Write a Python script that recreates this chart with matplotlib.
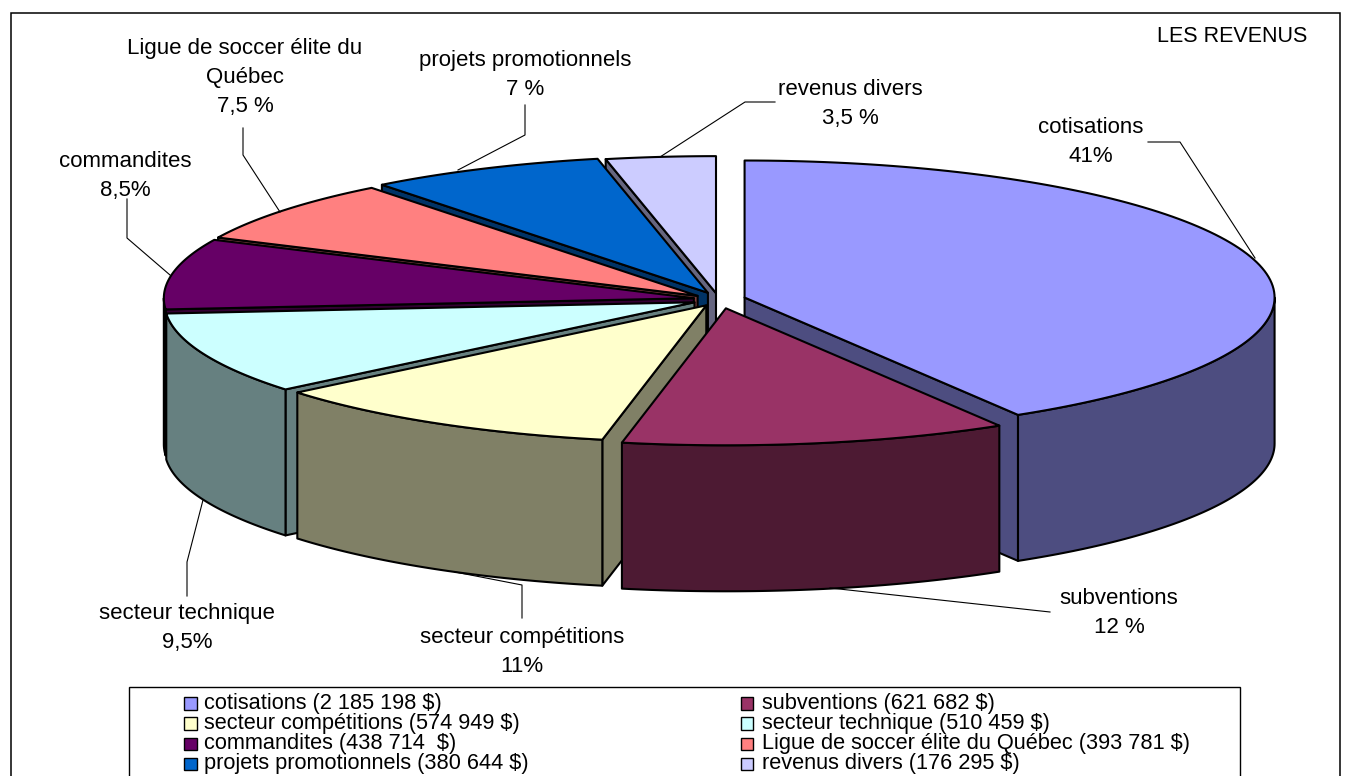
import numpy as np
import matplotlib
matplotlib.use("Agg")
import matplotlib.pyplot as plt
from matplotlib.patches import Polygon, Rectangle

plt.rcParams['font.family'] = ['Liberation Sans', 'DejaVu Sans']

# ---- data ----
categories = ["cotisations", "subventions", "secteur compétitions", "secteur technique",
              "commandites", "Ligue de soccer élite du Québec", "projets promotionnels", "revenus divers"]
values = [2185198, 621682, 574949, 510459, 438714, 393781, 380644, 176295]
legend_labels = ["cotisations (2 185 198 $)", "subventions (621 682 $)",
                 "secteur compétitions (574 949 $)", "secteur technique (510 459 $)",
                 "commandites (438 714  $)", "Ligue de soccer élite du Québec (393 781 $)",
                 "projets promotionnels (380 644 $)", "revenus divers (176 295 $)"]
slice_labels = ["cotisations\n41%", "subventions\n12 %", "secteur compétitions\n11%",
                "secteur technique\n9,5%", "commandites\n8,5%",
                "Ligue de soccer élite du\nQuébec\n7,5 %", "projets promotionnels\n7 %",
                "revenus divers\n3,5 %"]

# ---- style ----
top_colors = ["#9999FF", "#993366", "#FFFFCC", "#CCFFFF", "#660066", "#FF8080", "#0066CC", "#CCCCFF"]
side_colors = ["#4D4D80", "#4D1A33", "#808066", "#668080", "#330033", "#804040", "#003366", "#666680"]
label_pos = [(1091, 142), (1119, 613), (522, 652), (187, 628), (125, 176),
             (245, 77.5), (525, 75), (850, 104)]
leaders = [[(1148, 142), (1180, 142), (1255, 258)],
           [(1050, 612), (830, 588)],
           [(522, 618), (522, 585), (455, 572)],
           [(187, 596), (187, 562), (203, 500)],
           [(127, 199), (127, 238), (170, 275)],
           [(243, 128), (243, 155), (280, 212)],
           [(525, 105), (525, 135), (458, 170)],
           [(775, 102), (745, 102), (660, 157)]]
nudges = [(0, 0), (4, 1.5), (4, -0.5), (4, 0), (5, 0), (3, 1), (3, 0), (2, 1)]
CX, CY, RX, RY, DEPTH, EXPLODE = 717.0, 299.5, 530.0, 137.0, 146.0, 0.054
LW = 1.5
FS = 16.0
FS_LEGEND = 15.7

fig = plt.figure(figsize=(13.48, 7.76), dpi=100)
ax = fig.add_axes([0, 0, 1, 1])
ax.set_xlim(0, 1348)
ax.set_ylim(776, 0)
ax.axis("off")

ax.add_patch(Rectangle((10.5, 12.5), 1329, 790, fc="white", ec="black", lw=1.1))

total = sum(values)
frac = np.array(values) / total
edges = np.concatenate([[0], np.cumsum(frac)]) * 2 * np.pi


def pt(t, ax0, ay0, dz=0.0):
    return np.column_stack([ax0 + RX * np.sin(t), ay0 - RY * np.cos(t) + dz])


geoms = []
for i in range(len(values)):
    a, b = edges[i], edges[i + 1]
    m = (a + b) / 2
    geoms.append((a, b, CX + EXPLODE * RX * np.sin(m) + nudges[i][0],
                  CY - EXPLODE * RY * np.cos(m) + nudges[i][1]))


def draw_slice(i):
    a, b, x0, y0 = geoms[i]
    # radial walls
    for t, vis in ((a, np.sin(a) < -1e-6), (b, np.sin(b) > 1e-6)):
        if vis:
            p = pt(np.array([t]), x0, y0)[0]
            ax.add_patch(Polygon([(x0, y0), p, (p[0], p[1] + DEPTH), (x0, y0 + DEPTH)],
                                 fc=side_colors[i], ec="black", lw=LW, joinstyle="round"))
    # outer wall, front half only
    lo, hi = max(a, np.pi / 2), min(b, 3 * np.pi / 2)
    if hi > lo:
        tt = np.linspace(lo, hi, 80)
        upper = pt(tt, x0, y0)
        lower = pt(tt[::-1], x0, y0, DEPTH)
        ax.add_patch(Polygon(np.vstack([upper, lower]), fc=side_colors[i], ec="black",
                             lw=LW, joinstyle="round"))
    # top face
    tt = np.linspace(a, b, 120)
    ax.add_patch(Polygon(np.vstack([[(x0, y0)], pt(tt, x0, y0)]), fc=top_colors[i],
                         ec="black", lw=LW, joinstyle="round"))


for i in [7, 6, 5, 4, 3, 2, 0, 1]:
    draw_slice(i)

for pts in leaders:
    xs, ys = zip(*pts)
    ax.plot(xs, ys, color="black", lw=0.8)
for s, (x, y) in zip(slice_labels, label_pos):
    ax.text(x, y, s, ha="center", va="center", fontsize=FS, color="black", linespacing=1.47)
ax.text(1232, 36, "LES REVENUS", ha="center", va="center", fontsize=FS - 0.5)

# legend
ax.add_patch(Rectangle((129, 687), 1111, 100, fc="white", ec="black", lw=1.0))
rows = [703, 723, 743.5, 763.5]
cols = [(184, 204), (740.5, 762)]
for i, (lab, c) in enumerate(zip(legend_labels, top_colors)):
    y = rows[i // 2]
    mx, tx = cols[i % 2]
    ax.add_patch(Rectangle((mx, y - 6), 12.5, 12.5, fc=c, ec="black", lw=1.0))
    ax.text(tx, y, lab, ha="left", va="center", fontsize=FS_LEGEND)

fig.savefig("out.png", dpi=100)
